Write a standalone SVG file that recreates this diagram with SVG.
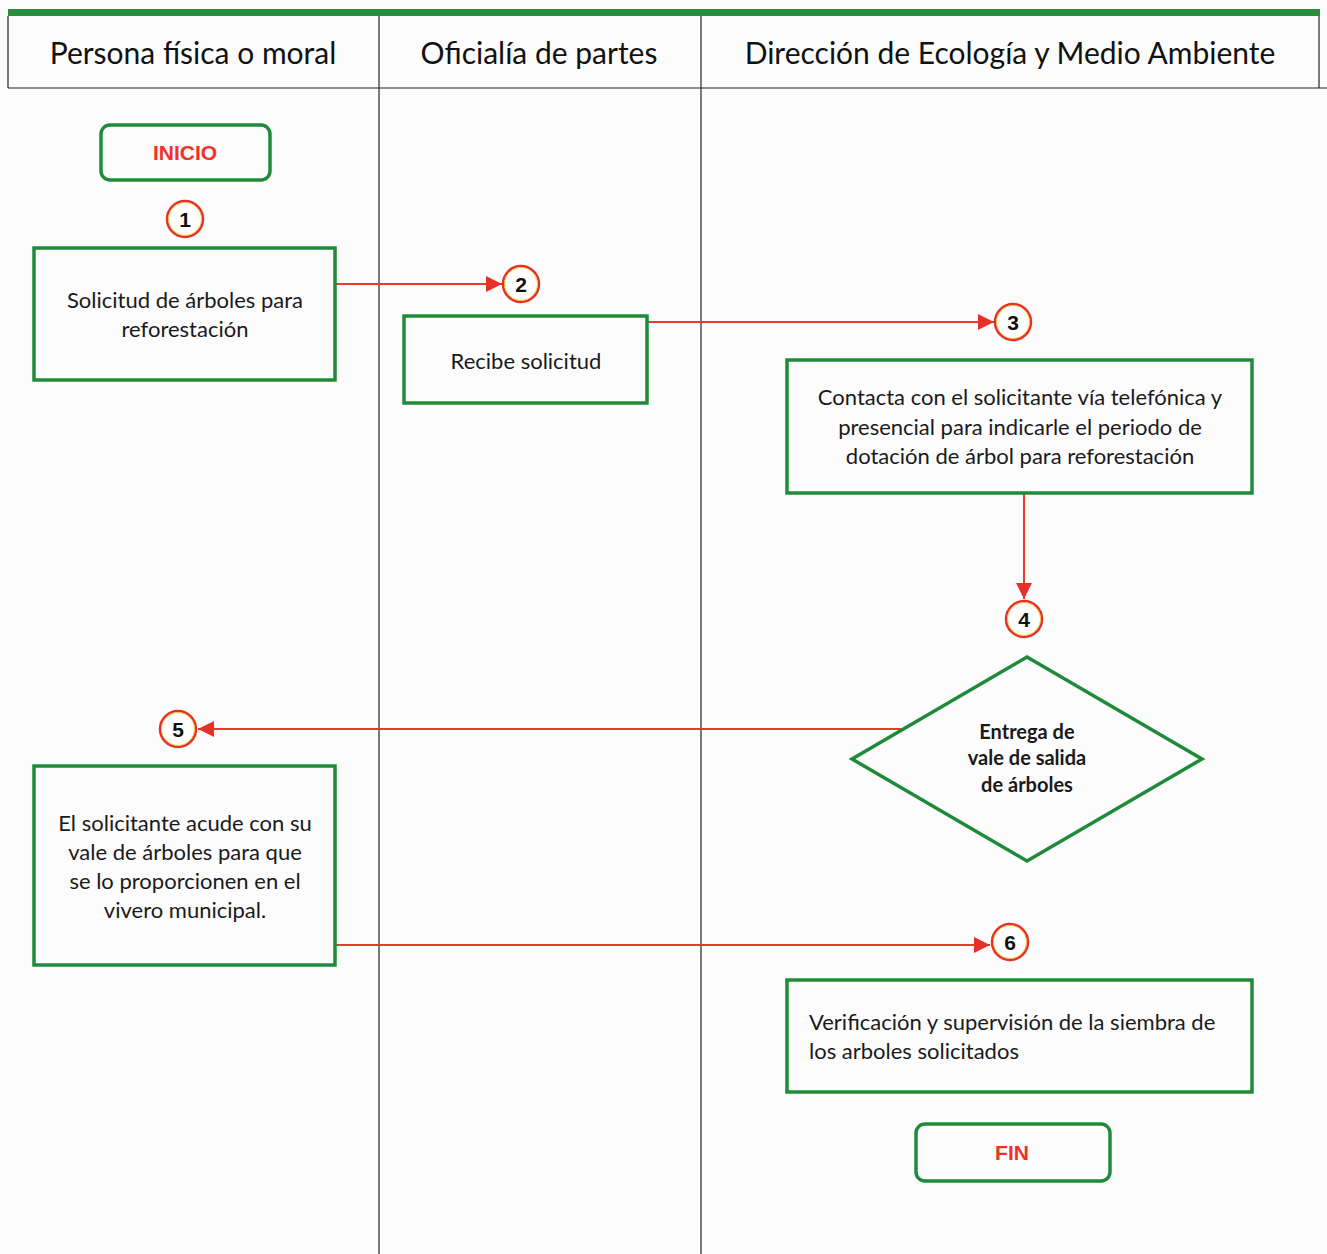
<svg xmlns="http://www.w3.org/2000/svg" width="1327" height="1254" viewBox="0 0 1327 1254">
<defs>
<style>
.hdr{font-family:Lato,"Liberation Sans",sans-serif;font-size:30px;fill:#111;text-anchor:middle}
.txt{font-family:Lato,"Liberation Sans",sans-serif;font-size:22px;fill:#1a1a1a;text-anchor:middle}
.lt{text-anchor:start}
.bold{font-family:Lato,"Liberation Sans",sans-serif;font-size:20px;font-weight:bold;fill:#1a1a1a;text-anchor:middle}
.term{font-family:"Liberation Sans",Arial,sans-serif;font-size:21px;font-weight:bold;fill:#f0302a;text-anchor:middle}
.num{font-family:"Liberation Sans",Arial,sans-serif;font-size:21px;font-weight:bold;fill:#111;text-anchor:middle}
.box{fill:none;stroke:#1e8a3a;stroke-width:3.5}
.lane{stroke:#222;stroke-width:1.2;fill:none}
.conn{stroke:#ea3b2a;stroke-width:2;fill:none}
.cr{fill:#fff;stroke:#e8302a;stroke-width:2.5}
.ci{fill:none;stroke:#f2c23a;stroke-width:1}
</style>
<marker id="ah" viewBox="0 0 10 10" refX="10" refY="5" markerWidth="8" markerHeight="8" markerUnits="strokeWidth" orient="auto">
<path d="M0,0 L10,5 L0,10 z" fill="#e8302a"/>
</marker>
</defs>
<rect x="0" y="0" width="1327" height="1254" fill="#fcfcfd"/>
<g id="lanes">
<rect x="8" y="9" width="1312" height="7" fill="#2a8c3e"/>
<line class="lane" x1="8" y1="16" x2="8" y2="88"/>
<line class="lane" x1="1319" y1="16" x2="1319" y2="88"/>
<line class="lane" x1="8" y1="88" x2="1327" y2="88"/>
<line class="lane" x1="379" y1="16" x2="379" y2="1254"/>
<line class="lane" x1="701" y1="16" x2="701" y2="1254"/>
<text class="hdr" x="193" y="64">Persona física o moral</text>
<text class="hdr" x="539" y="64">Oficialía de partes</text>
<text class="hdr" x="1010" y="64">Dirección de Ecología y Medio Ambiente</text>
</g>
<g id="connectors">
<line class="conn" x1="335" y1="284" x2="502" y2="284" marker-end="url(#ah)"/>
<line class="conn" x1="647" y1="322" x2="994" y2="322" marker-end="url(#ah)"/>
<line class="conn" x1="1024" y1="493" x2="1024" y2="599" marker-end="url(#ah)"/>
<line class="conn" x1="902" y1="729" x2="198" y2="729" marker-end="url(#ah)"/>
<line class="conn" x1="335" y1="945" x2="990" y2="945" marker-end="url(#ah)"/>
</g>
<g id="inicio">
<rect class="box" x="101" y="125" width="169" height="55" rx="9"/>
<text class="term" x="185" y="160">INICIO</text>
</g>
<g id="n1">
<circle class="cr" cx="185" cy="219" r="18"/><circle class="ci" cx="185" cy="219" r="16.5"/>
<text class="num" x="185" y="227">1</text>
</g>
<g id="box1">
<rect class="box" x="34" y="248" width="301" height="132"/>
<text class="txt" x="185" y="308">Solicitud de árboles para</text>
<text class="txt" x="185" y="337">reforestación</text>
</g>
<g id="n2">
<circle class="cr" cx="521" cy="284" r="18"/><circle class="ci" cx="521" cy="284" r="16.5"/>
<text class="num" x="521" y="292">2</text>
</g>
<g id="box2">
<rect class="box" x="404" y="316" width="243" height="87"/>
<text class="txt" x="526" y="369">Recibe solicitud</text>
</g>
<g id="n3">
<circle class="cr" cx="1013" cy="322" r="18"/><circle class="ci" cx="1013" cy="322" r="16.5"/>
<text class="num" x="1013" y="330">3</text>
</g>
<g id="box3">
<rect class="box" x="787" y="360" width="465" height="133"/>
<text class="txt" x="1020" y="405">Contacta con el solicitante vía telefónica y</text>
<text class="txt" x="1020" y="435">presencial para indicarle el periodo de</text>
<text class="txt" x="1020" y="464">dotación de árbol para reforestación</text>
</g>
<g id="n4">
<circle class="cr" cx="1024" cy="619" r="18"/><circle class="ci" cx="1024" cy="619" r="16.5"/>
<text class="num" x="1024" y="627">4</text>
</g>
<g id="decision">
<polygon class="box" points="1027,657 1202,759 1027,861 852,759"/>
<text class="bold" x="1027" y="739">Entrega de</text>
<text class="bold" x="1027" y="765">vale de salida</text>
<text class="bold" x="1027" y="792">de árboles</text>
</g>
<g id="n5">
<circle class="cr" cx="178" cy="729" r="18"/><circle class="ci" cx="178" cy="729" r="16.5"/>
<text class="num" x="178" y="737">5</text>
</g>
<g id="box5">
<rect class="box" x="34" y="766" width="301" height="199"/>
<text class="txt" x="185" y="831">El solicitante acude con su</text>
<text class="txt" x="185" y="860">vale de árboles para que</text>
<text class="txt" x="185" y="889">se lo proporcionen en el</text>
<text class="txt" x="185" y="918">vivero municipal.</text>
</g>
<g id="n6">
<circle class="cr" cx="1010" cy="942" r="18"/><circle class="ci" cx="1010" cy="942" r="16.5"/>
<text class="num" x="1010" y="950">6</text>
</g>
<g id="box6">
<rect class="box" x="787" y="980" width="465" height="112"/>
<text class="txt lt" x="809" y="1030">Verificación y supervisión de la siembra de</text>
<text class="txt lt" x="809" y="1059">los arboles solicitados</text>
</g>
<g id="fin">
<rect class="box" x="916" y="1124" width="194" height="57" rx="9"/>
<text class="term" x="1012" y="1160">FIN</text>
</g>
</svg>
